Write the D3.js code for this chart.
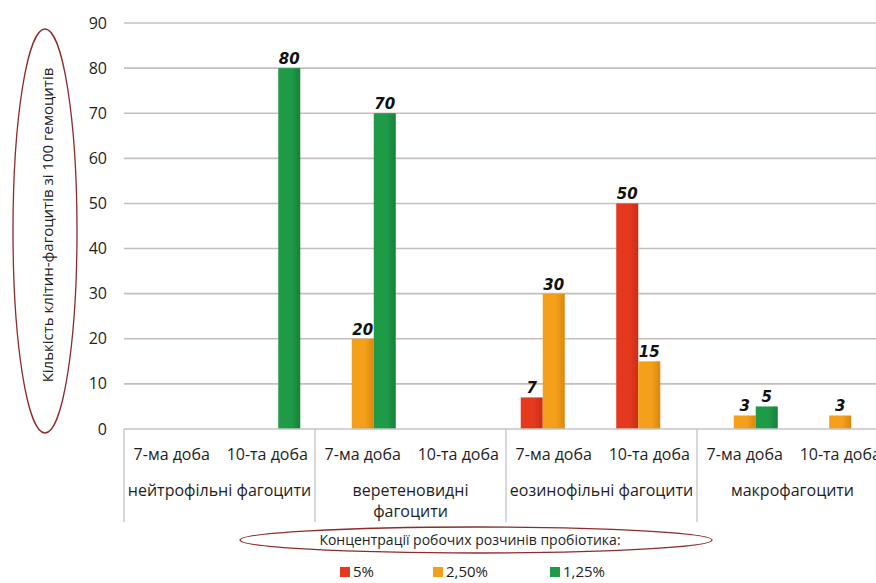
<!DOCTYPE html>
<html>
<head>
<meta charset="utf-8">
<script src="https://cdn.jsdelivr.net/npm/d3@7"></script>
<style>
  body { margin: 0; background: #fff; }
  text { font-family: "Open Sans", "Noto Sans", sans-serif; fill: #1e1e1e; }
</style>
</head>
<body>
<div id="chart"></div>
<script>
// Dimensions
const width = 876;
const height = 583;
const margin = { top: 23, right: -12, bottom: 154, left: 124 };

// Data
const groups = ["нейтрофільні фагоцити", "веретеновидні фагоцити", "еозинофільні фагоцити", "макрофагоцити"];
const groupLines = [["нейтрофільні фагоцити"], ["веретеновидні", "фагоцити"], ["еозинофільні фагоцити"], ["макрофагоцити"]];
const days = ["7-ма доба", "10-та доба"];
const series = ["5%", "2,50%", "1,25%"];
// values per (group, day) slot, in order
const values5 = [null, null, null, null, 7, 50, null, null];
const values25 = [null, null, 20, null, 30, 15, 3, 3];
const values125 = [null, 80, 70, null, null, null, 5, null];
const yTicks = [0, 10, 20, 30, 40, 50, 60, 70, 80, 90];

const colors = ["#e4391f", "#f4a01b", "#1f9a47"];
const darker = ["#c92e17", "#d9870f", "#17803a"];

const svg = d3.select("#chart").append("svg")
    .attr("width", width)
    .attr("height", height);

const defs = svg.append("defs");
colors.forEach((c, i) => {
    const g = defs.append("linearGradient").attr("id", "grad" + i)
        .attr("x1", "0").attr("x2", "1").attr("y1", "0").attr("y2", "0");
    g.append("stop").attr("offset", "0%").attr("stop-color", c);
    g.append("stop").attr("offset", "60%").attr("stop-color", c);
    g.append("stop").attr("offset", "100%").attr("stop-color", darker[i]);
});

const plotBottom = height - margin.bottom;
const y = d3.scaleLinear().domain([0, 90]).range([plotBottom, margin.top]);

const x0 = d3.scaleBand().domain(groups).range([margin.left, width - margin.right]);
const x1 = d3.scaleBand().domain(days).range([0, x0.bandwidth()]);
const x2 = d3.scaleBand().domain(series).range([0, x1.bandwidth()]).paddingOuter(0.67);

// Grid lines
svg.append("g").selectAll("line")
    .data(yTicks.filter(d => d > 0))
    .join("line")
    .attr("x1", margin.left)
    .attr("x2", width)
    .attr("y1", d => y(d))
    .attr("y2", d => y(d))
    .attr("stroke", "#c6bebb")
    .attr("stroke-width", 1.6);

// Y tick labels
svg.append("g").selectAll("text")
    .data(yTicks)
    .join("text")
    .attr("x", 107)
    .attr("y", d => y(d))
    .attr("dy", "0.35em")
    .attr("text-anchor", "end")
    .attr("font-size", "16px")
    .text(d => d);

// Bars
const slots = [];
groups.forEach((g, gi) => {
    days.forEach((d, di) => {
        const idx = gi * 2 + di;
        [values5, values25, values125].forEach((vals, si) => {
            if (vals[idx] != null) slots.push({ group: g, day: d, s: si, value: vals[idx] });
        });
    });
});

const barX = d => x0(d.group) + x1(d.day) + x2(series[d.s]);

svg.append("g").selectAll("rect")
    .data(slots)
    .join("rect")
    .attr("x", barX)
    .attr("y", d => y(d.value))
    .attr("width", x2.bandwidth())
    .attr("height", d => y(0) - y(d.value))
    .attr("fill", d => `url(#grad${d.s})`);

// Value labels
svg.append("g").selectAll("text")
    .data(slots)
    .join("text")
    .attr("x", d => barX(d) + x2.bandwidth() / 2)
    .attr("y", d => y(d.value) - 4)
    .attr("text-anchor", "middle")
    .attr("font-size", "15px")
    .attr("font-weight", "bold")
    .attr("font-style", "italic")
    .style("font-family", "'DejaVu Sans', sans-serif")
    .style("fill", "#111")
    .text(d => d.value);

// X axis line
svg.append("line")
    .attr("x1", margin.left).attr("x2", width)
    .attr("y1", y(0)).attr("y2", y(0))
    .attr("stroke", "#c4c4c4").attr("stroke-width", 1.6);

// Group separators
svg.append("g").selectAll("line")
    .data(groups)
    .join("line")
    .attr("x1", d => x0(d)).attr("x2", d => x0(d))
    .attr("y1", y(0)).attr("y2", y(0) + 93)
    .attr("stroke", "#c4c4c4").attr("stroke-width", 1.3);

// Day labels
const dayLabels = [];
groups.forEach(g => days.forEach(d => dayLabels.push({ g, d })));
svg.append("g").selectAll("text")
    .data(dayLabels)
    .join("text")
    .attr("x", d => x0(d.g) + x1(d.d) + x1.bandwidth() / 2)
    .attr("y", y(0) + 25)
    .attr("dy", "0.35em")
    .attr("text-anchor", "middle")
    .attr("font-size", "16px")
    .text(d => d.d);

// Group labels
groups.forEach((g, i) => {
    groupLines[i].forEach((line, li) => {
        svg.append("text")
            .attr("x", x0(g) + x0.bandwidth() / 2)
            .attr("y", y(0) + 61 + li * 21)
            .attr("dy", "0.35em")
            .attr("text-anchor", "middle")
            .attr("font-size", "16px")
            .text(line);
    });
});

// Y axis title with ellipse
svg.append("ellipse")
    .attr("cx", 45).attr("cy", 231)
    .attr("rx", 32).attr("ry", 202)
    .attr("fill", "none")
    .attr("stroke", "#8e2b2b").attr("stroke-width", 1.3);

svg.append("text")
    .attr("transform", "translate(48,225) rotate(-90)")
    .attr("text-anchor", "middle")
    .attr("dy", "0.35em")
    .attr("font-size", "15px")
    .text("Кількість клітин-фагоцитів зі 100 гемоцитів");

// Legend title with ellipse
svg.append("ellipse")
    .attr("cx", 476).attr("cy", 540)
    .attr("rx", 236).attr("ry", 13)
    .attr("fill", "none")
    .attr("stroke", "#8e2b2b").attr("stroke-width", 1.3);

svg.append("text")
    .attr("x", 470).attr("y", 540)
    .attr("dy", "0.35em")
    .attr("text-anchor", "middle")
    .attr("font-size", "14px")
    .text("Концентрації робочих розчинів пробіотика:");

// Legend
const legendX = [340, 433, 550];
const legend = svg.append("g").selectAll("g")
    .data(series)
    .join("g")
    .attr("transform", (d, i) => `translate(${legendX[i]},${572})`);

legend.append("rect")
    .attr("x", 0).attr("y", -5)
    .attr("width", 10).attr("height", 10)
    .attr("fill", (d, i) => colors[i]);

legend.append("text")
    .attr("x", 13).attr("y", 0)
    .attr("dy", "0.35em")
    .attr("font-size", "15px")
    .text(d => d);
</script>
</body>
</html>
